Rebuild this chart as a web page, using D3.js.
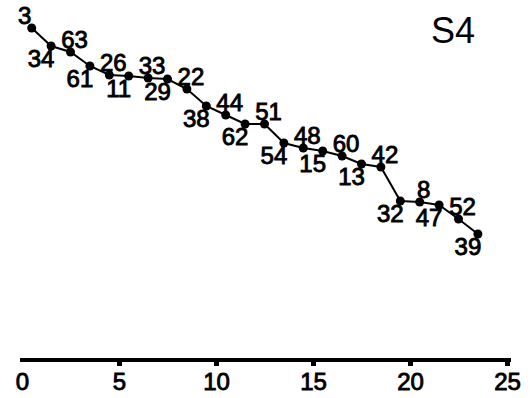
<!DOCTYPE html>
<html>
<head>
<meta charset="utf-8">
<script src="https://cdn.jsdelivr.net/npm/d3@7"></script>
<style>
  body { margin: 0; background: #fff; }
  text { font-family: "Liberation Sans", Arial, sans-serif; fill: #000; }
</style>
</head>
<body>
<div id="chart"></div>
<script>
// values (y has no axis, so units are arbitrary)
var xs = [0.5, 1.5, 2.5, 3.5, 4.5, 5.5, 6.5, 7.5, 8.5, 9.5, 10.5, 11.5,
          12.5, 13.5, 14.5, 15.5, 16.5, 17.5, 18.5, 19.5, 20.5, 21.5, 22.5, 23.5];
var ys = [33.2, 31.4, 30.8, 29.4, 28.5, 28.4, 28.2, 28.1, 27.1, 25.4, 24.5, 23.6,
          23.6, 21.7, 21.2, 20.9, 20.4, 19.6, 19.3, 15.9, 15.8, 15.5, 14.1, 12.6];
var labels = ["3", "34", "63", "61", "26", "11", "33", "29", "22", "38", "44", "62",
              "51", "54", "48", "15", "60", "13", "42", "32", "8", "47", "52", "39"];
var xTicks = [0, 5, 10, 15, 20, 25];
var title = "S4";

var width = 531, height = 398;

var svg = d3.select("#chart").append("svg")
    .attr("width", width)
    .attr("height", height);

var x = d3.scaleLinear().domain([0, 25]).range([22, 507]);
var y = d3.scaleLinear().domain([0, 34]).range([360, 20]);

var points = xs.map(function(d, i) { return { x: d, y: ys[i], label: labels[i] }; });

// x axis
var axis = svg.append("g")
    .attr("transform", "translate(0,360)")
    .call(d3.axisBottom(x).tickValues(xTicks).tickSize(6));

axis.select(".domain")
    .attr("stroke", "#000")
    .attr("stroke-width", 4)
    .attr("d", "M" + (x(0) - 2) + ",0H" + (x(25) + 4));

axis.selectAll(".tick line")
    .attr("stroke", "#000")
    .attr("stroke-width", 5);

axis.selectAll(".tick").filter(function(d) { return d === 0; }).select("line").remove();

axis.selectAll(".tick text")
    .attr("font-size", 24)
    .attr("font-family", "Liberation Sans, Arial, sans-serif")
    .attr("fill", "#000")
    .attr("stroke", "#000")
    .attr("stroke-width", 0.9)
    .attr("y", 30)
    .attr("dy", 0);

// line
var line = d3.line()
    .x(function(d) { return x(d.x); })
    .y(function(d) { return y(d.y); });

svg.append("path")
    .attr("d", line(points))
    .attr("fill", "none")
    .attr("stroke", "#000")
    .attr("stroke-width", 2);

svg.selectAll("circle.pt")
    .data(points)
    .enter().append("circle")
    .attr("class", "pt")
    .attr("cx", function(d) { return x(d.x); })
    .attr("cy", function(d) { return y(d.y); })
    .attr("r", 4.5)
    .attr("fill", "#000");

// labels alternate above / below the line
svg.selectAll("text.lbl")
    .data(points)
    .enter().append("text")
    .attr("class", "lbl")
    .attr("x", function(d, i) { return x(d.x) + (i === 0 ? -7 : i % 2 === 0 ? 4 : -10); })
    .attr("y", function(d, i) { return y(d.y) + (i % 2 === 0 ? -4 : 21); })
    .attr("text-anchor", "middle")
    .attr("font-size", 24)
    .attr("stroke", "#000")
    .attr("stroke-width", 0.9)
    .text(function(d) { return d.label; });

svg.append("text")
    .attr("x", 431)
    .attr("y", 43)
    .attr("font-size", 36)
    .text(title);
</script>
</body>
</html>
